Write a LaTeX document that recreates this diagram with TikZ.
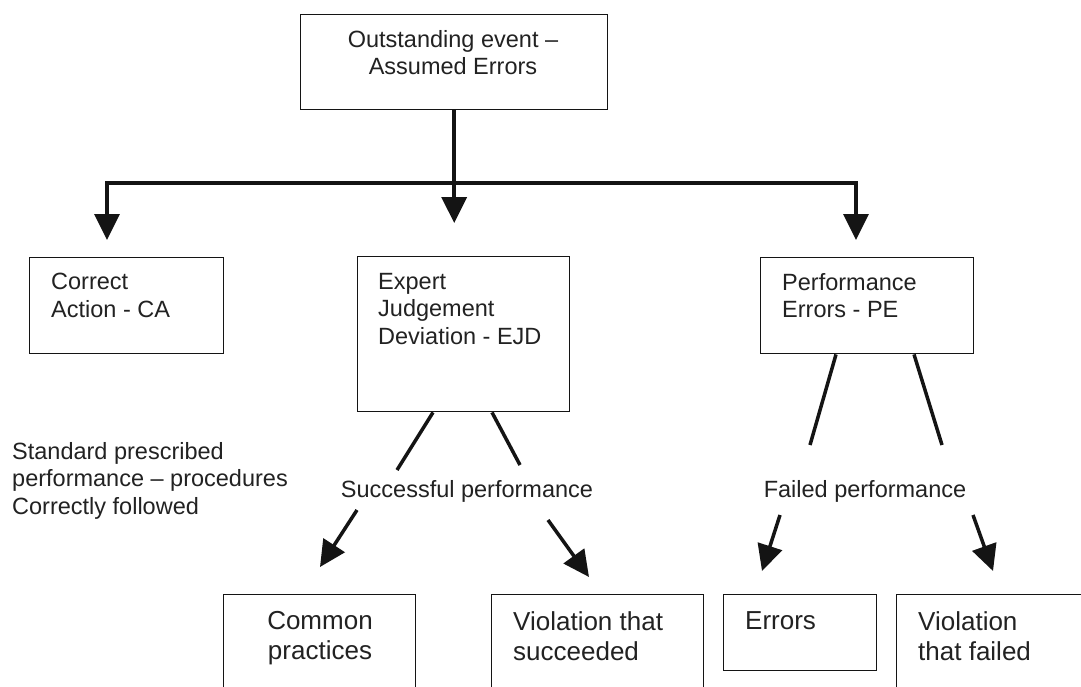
\documentclass[tikz,border=0pt]{standalone}
\usepackage{fontspec}
\setmainfont{Liberation Sans}
\usetikzlibrary{arrows.meta,calc}
\definecolor{ink}{HTML}{141414}
\definecolor{txt}{HTML}{222222}
\begin{document}
\begin{tikzpicture}[x=1pt,y=-1pt,
  box/.style={draw=ink, line width=1.4pt, rectangle, inner sep=0pt, anchor=north west},
  lbl/.style={text=txt, font=\fontsize{23.5}{27.5}\selectfont, inner sep=0pt, align=left, anchor=north west},
  lblc/.style={lbl, align=center, anchor=north},
  big/.style={text=txt, font=\fontsize{26}{30}\selectfont, inner sep=0pt, align=left, anchor=north west},
  bigc/.style={big, align=center, anchor=north},
  conn/.style={draw=ink, line width=3.5pt},
  arr/.style={conn, -{Triangle[width=25pt,length=26pt]}},
]
\useasboundingbox (0,0) rectangle (1081,686);
\clip (0,0) rectangle (1081,686);
\fill[white] (0,0) rectangle (1081,686);

% boxes
\node[box, minimum width=307pt, minimum height=95pt]  (top) at (300,14) {};
\node[box, minimum width=194pt, minimum height=96pt]  (ca)  at (29,257) {};
\node[box, minimum width=212pt, minimum height=155pt] (ejd) at (357,256) {};
\node[box, minimum width=213pt, minimum height=96pt]  (pe)  at (760,257) {};
\node[box, minimum width=192pt, minimum height=130pt] (cp)  at (223,594) {};
\node[box, minimum width=212pt, minimum height=130pt] (vs)  at (491,594) {};
\node[box, minimum width=153pt, minimum height=76pt]  (er)  at (723,594) {};
\node[box, minimum width=210pt, minimum height=130pt] (vf)  at (896,594) {};

% box texts
\node[lblc] (topT) at (453,30) {Outstanding event --\\Assumed Errors};
\node[lbl] (caT)  at (51,273)  {Correct\\Action - CA};
\node[lbl] (ejdT) at (378,273) {Expert\\Judgement\\Deviation - EJD};
\node[lbl] (peT)  at (782,273) {Performance\\Errors - PE};
\node[bigc] (cpT) at (320,611) {Common\\practices};
\node[big] (vsT)  at (513,611) {Violation that\\succeeded};
\node[big] (erT)  at (745,611) {Errors};
\node[big] (vfT)  at (918,611) {Violation\\that failed};

% free labels
\node[lbl] (std) at (12,442) {Standard prescribed\\performance -- procedures\\Correctly followed};
\node[lblc] (sp) at (467,480) {Successful performance};
\node[lblc] (fp) at (865,480) {Failed performance};

% first split
\coordinate (hy) at (0,183);
\coordinate (lx) at (107,0);
\coordinate (rx) at (856,0);
\coordinate (j) at (top.south |- hy);
\draw[conn] (top.south) -- (j);
\draw[arr, shorten >=17pt] (j) -| (ca.north -| lx);
\draw[arr, shorten >=33pt] (j) -- (ejd.north -| j);
\draw[arr, shorten >=17pt] (j) -| (pe.north -| rx);

% legs under EJD and PE
\coordinate (ejdL) at ($(ejd.south west)+(76,0)$);
\coordinate (ejdR) at ($(ejd.south west)+(135,0)$);
\coordinate (spL) at (397,470);
\coordinate (spR) at (520,465);
\draw[conn] (ejdL) -- (spL);
\draw[conn] (ejdR) -- (spR);
\coordinate (peL) at ($(pe.south west)+(76,0)$);
\coordinate (peR) at ($(pe.south west)+(154,0)$);
\coordinate (fpL) at (810,445);
\coordinate (fpR) at (942,445);
\draw[conn] (peL) -- (fpL);
\draw[conn] (peR) -- (fpR);

% arrows to the outcome boxes
\coordinate (a1s) at (357,510); \coordinate (a1e) at (320,567);
\coordinate (a2s) at (548,520); \coordinate (a2e) at (589,577);
\coordinate (a3s) at (780,515); \coordinate (a3e) at (762,571);
\coordinate (a4s) at (973,515); \coordinate (a4e) at (993,571);
\draw[arr] (a1s) -- (a1e);
\draw[arr] (a2s) -- (a2e);
\draw[arr] (a3s) -- (a3e);
\draw[arr] (a4s) -- (a4e);
\end{tikzpicture}
\end{document}
